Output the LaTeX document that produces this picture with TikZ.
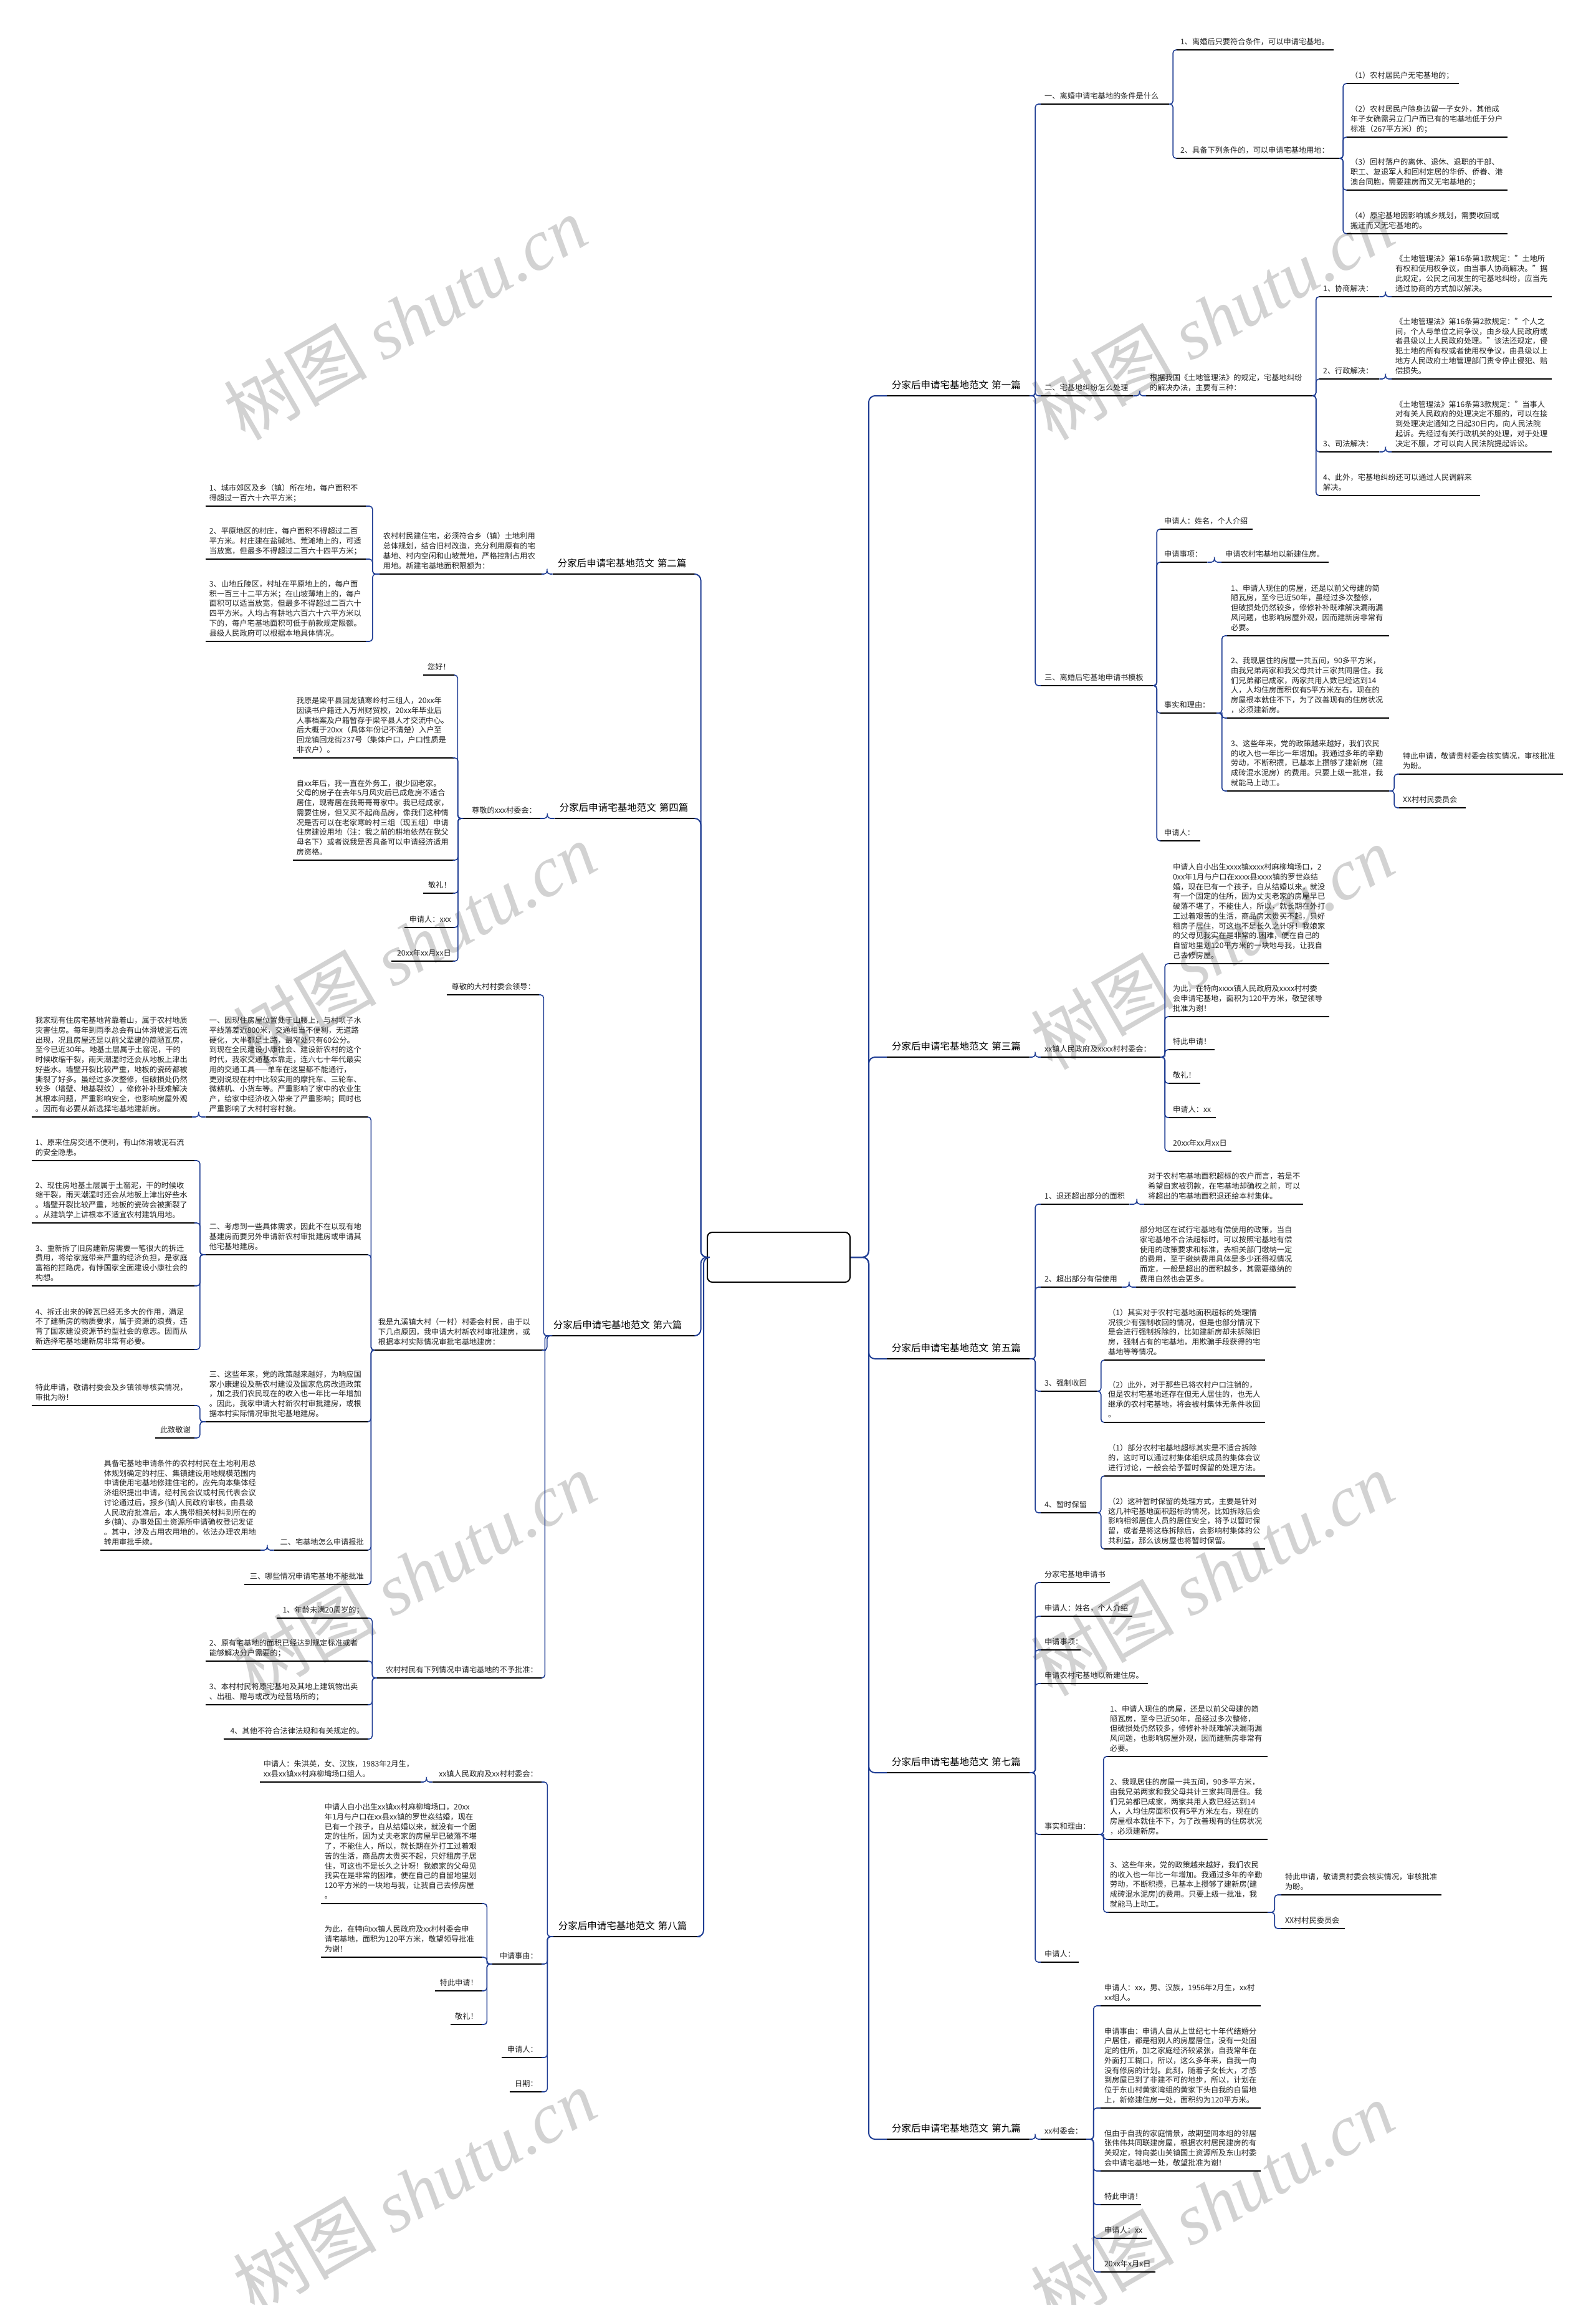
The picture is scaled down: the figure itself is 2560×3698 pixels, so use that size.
\documentclass[tikz,border=0pt]{standalone}
\usepackage{fontspec}
\setmainfont{Noto Sans CJK SC}
\newfontfamily\wmlatin{Liberation Serif}
\usetikzlibrary{calc}
\definecolor{conncol}{RGB}{32,62,148}
\definecolor{txtcol}{RGB}{34,34,34}
\definecolor{wmcol}{RGB}{210,210,210}
\setlength\parindent{0pt}
\newcommand\bodyf{\fontsize{12.2}{15.7}\selectfont}
\newcommand\ttlf{\fontsize{15.5}{19}\selectfont}
\tikzset{
 itR/.style={anchor=south west,align=left,inner xsep=6pt,inner ysep=4pt,font=\bodyf,text=txtcol},
 itL/.style={anchor=south east,align=left,inner xsep=6pt,inner ysep=4pt,font=\bodyf,text=txtcol},
 itLr/.style={anchor=south east,align=right,inner xsep=6pt,inner ysep=4pt,font=\bodyf,text=txtcol},
 ttR/.style={anchor=south west,align=left,inner xsep=8pt,inner ysep=6pt,font=\ttlf,text=black},
 ttL/.style={anchor=south east,align=left,inner xsep=8pt,inner ysep=6pt,font=\ttlf,text=black},
 ul/.style={draw=black,line width=1.8pt},
 tul/.style={draw=black,line width=2.4pt},
 conn/.style={draw=conncol,line width=1.6pt,rounded corners=5pt},
 rconn/.style={draw=conncol,line width=2pt,rounded corners=10pt},
 rootbox/.style={draw=black,line width=2pt,fill=white,rounded corners=8pt,minimum width=229pt,minimum height=80pt},
 wm/.style={text=wmcol,font=\fontsize{115}{115}\selectfont,rotate=30,inner sep=0pt}
}
\newcommand\mmR[5]{\pgfmathsetmacro\mmtw{#4-12}\node[itR,text width=\mmtw pt] (#1) at (#2,#3) {#5\strut};\draw[ul] (#1.south west) -- (#1.south east);}
\newcommand\mmL[5]{\pgfmathsetmacro\mmtw{#4-12}\node[itL,text width=\mmtw pt] (#1) at (#2,#3) {#5\strut};\draw[ul] (#1.south west) -- (#1.south east);}
\newcommand\mmLr[5]{\pgfmathsetmacro\mmtw{#4-12}\node[itLr,text width=\mmtw pt] (#1) at (#2,#3) {#5\strut};\draw[ul] (#1.south west) -- (#1.south east);}
\newcommand\mmTR[5]{\pgfmathsetmacro\mmtw{#4-16}\node[ttR,text width=\mmtw pt] (#1) at (#2,#3) {分家后申请宅基地范文~第#5篇\strut};\draw[tul] (#1.south west) -- (#1.south east);}
\newcommand\mmTL[5]{\pgfmathsetmacro\mmtw{#4-16}\node[ttL,text width=\mmtw pt] (#1) at (#2,#3) {分家后申请宅基地范文~第#5篇\strut};\draw[tul] (#1.south west) -- (#1.south east);}
\newcommand\mmCR[2]{\draw[conn] (#1.south east) -| ($(#1.south east)!.5!(#2.south west)$) |- (#2.south west);}
\newcommand\mmCL[2]{\draw[conn] (#1.south west) -| ($(#1.south west)!.5!(#2.south east)$) |- (#2.south east);}
\begin{document}
\begin{tikzpicture}[x=1pt,y=-1pt]
\useasboundingbox (0,0) rectangle (2560,3698);
\fill[white] (0,0) rectangle (2560,3698);
% watermarks
\node[wm] (wm1) at (650,510) {树图~{\wmlatin\itshape shutu.cn}};
\node[wm] (wm2) at (1945,510) {树图~{\wmlatin\itshape shutu.cn}};
\node[wm] (wm3) at (665,1515) {树图~{\wmlatin\itshape shutu.cn}};
\node[wm] (wm4) at (1945,1520) {树图~{\wmlatin\itshape shutu.cn}};
\node[wm] (wm5) at (665,2525) {树图~{\wmlatin\itshape shutu.cn}};
\node[wm] (wm6) at (1945,2525) {树图~{\wmlatin\itshape shutu.cn}};
\node[wm] (wm7) at (665,3515) {树图~{\wmlatin\itshape shutu.cn}};
\node[wm] (wm8) at (1945,3535) {树图~{\wmlatin\itshape shutu.cn}};

\node[rootbox] (root) at (1249.5,2017) {};

% ===== 第一篇 =====
\mmTR{t1}{1423}{635}{229}{一}
\mmR{n1a}{1670}{167}{206}{一、离婚申请宅基地的条件是什么}
\mmR{n1a1}{1888}{80}{252}{1、离婚后只要符合条件，可以申请宅基地。}
\mmR{n1a2}{1888}{254}{261}{2、具备下列条件的，可以申请宅基地用地：}
\mmR{n1a2a}{2161}{134}{180}{（1）农村居民户无宅基地的；}
\mmR{n1a2b}{2161}{220}{258}{（2）农村居民户除身边留一子女外，其他成\\年子女确需另立门户而已有的宅基地低于分户\\标准（267平方米）的；}
\mmR{n1a2c}{2161}{305}{258}{（3）回村落户的离休、退休、退职的干部、\\职工、复退军人和回村定居的华侨、侨眷、港\\澳台同胞，需要建房而又无宅基地的；}
\mmR{n1a2d}{2161}{375}{258}{（4）原宅基地因影响城乡规划，需要收回或\\搬迁而又无宅基地的。}
\mmR{n1b}{1670}{635}{148}{二、宅基地纠纷怎么处理}
\mmR{n1b1}{1839}{635}{267}{根据我国《土地管理法》的规定，宅基地纠纷\\的解决办法，主要有三种：}
\mmR{n1b1a}{2117}{476}{96}{1、协商解决：}
\mmR{n1b1a1}{2233}{476}{257}{《土地管理法》第16条第1款规定："土地所\\有权和使用权争议，由当事人协商解决。"据\\此规定，公民之间发生的宅基地纠纷，应当先\\通过协商的方式加以解决。}
\mmR{n1b1b}{2117}{608}{96}{2、行政解决：}
\mmR{n1b1b1}{2233}{608}{257}{《土地管理法》第16条第2款规定："个人之\\间，个人与单位之间争议，由乡级人民政府或\\者县级以上人民政府处理。"该法还规定，侵\\犯土地的所有权或者使用权争议，由县级以上\\地方人民政府土地管理部门责令停止侵犯、赔\\偿损失。}
\mmR{n1b1c}{2117}{725}{96}{3、司法解决：}
\mmR{n1b1c1}{2233}{725}{257}{《土地管理法》第16条第3款规定："当事人\\对有关人民政府的处理决定不服的，可以在接\\到处理决定通知之日起30日内，向人民法院\\起诉。先经过有关行政机关的处理，对于处理\\决定不服，才可以向人民法院提起诉讼。}
\mmR{n1b1d}{2117}{795}{258}{4、此外，宅基地纠纷还可以通过人民调解来\\解决。}
\mmR{n1c}{1670}{1100}{180}{三、离婚后宅基地申请书模板}
\mmR{n1c1}{1862}{849}{148}{申请人：姓名，个人介绍}
\mmR{n1c2}{1862}{902}{75}{申请事项：}
\mmR{n1c2a}{1960}{902}{172}{申请农村宅基地以新建住房。}
\mmR{n1c3}{1862}{1144}{90}{事实和理由：}
\mmR{n1c3a}{1969}{1020}{260}{1、申请人现住的房屋，还是以前父母建的简\\陋瓦房，至今已近50年，虽经过多次整修，\\但破损处仍然较多，修修补补既难解决漏雨漏\\风问题，也影响房屋外观，因而建新房非常有\\必要。}
\mmR{n1c3b}{1969}{1152}{260}{2、我现居住的房屋一共五间，90多平方米，\\由我兄弟两家和我父母共计三家共同居住。我\\们兄弟都已成家，两家共用人数已经达到14\\人，人均住房面积仅有5平方米左右，现在的\\房屋根本就住不下，为了改善现有的住房状况\\，必须建新房。}
\mmR{n1c3c}{1969}{1269}{260}{3、这些年来，党的政策越来越好，我们农民\\的收入也一年比一年增加。我通过多年的辛勤\\劳动，不断积攒，已基本上攒够了建新房（建\\成砖混水泥房）的费用。只要上级一批准，我\\就能马上动工。}
\mmR{n1c3c1}{2245}{1242}{263}{特此申请，敬请贵村委会核实情况，审核批准\\为盼。}
\mmR{n1c3c2}{2245}{1296}{107}{XX村村民委员会}
\mmR{n1c4}{1862}{1349}{64}{申请人：}

% ===== 第三篇 =====
\mmTR{t3}{1423}{1696}{229}{三}
\mmR{n3a}{1670}{1696}{192}{xx镇人民政府及xxxx村村委会：}
\mmR{n3a1}{1876}{1546}{257}{申请人自小出生xxxx镇xxxx村麻柳塆场口，2\\0xx年1月与户口在xxxx县xxxx镇的罗世焱结\\婚，现在已有一个孩子，自从结婚以来，就没\\有一个固定的住所，因为丈夫老家的房屋早已\\破落不堪了，不能住人，所以，就长期在外打\\工过着艰苦的生活，商品房太贵买不起，只好\\租房子居住，可这也不是长久之计呀！我娘家\\的父母见我实在是非常的.困难，便在自己的\\自留地里划120平方米的一块地与我，让我自\\己去修房屋。}
\mmR{n3a2}{1876}{1631}{257}{为此，在特向xxxx镇人民政府及xxxx村村委\\会申请宅基地，面积为120平方米，敬望领导\\批准为谢！}
\mmR{n3a3}{1876}{1684}{73}{特此申请！}
\mmR{n3a4}{1876}{1738}{50}{敬礼！}
\mmR{n3a5}{1876}{1793}{75}{申请人：xx}
\mmR{n3a6}{1876}{1847}{100}{20xx年xx月xx日}

% ===== 第五篇 =====
\mmTR{t5}{1423}{2180}{229}{五}
\mmR{n5a}{1670}{1932}{142}{1、退还超出部分的面积}
\mmR{n5a1}{1836}{1932}{255}{对于农村宅基地面积超标的农户而言，若是不\\希望自家被罚款，在宅基地却确权之前，可以\\将超出的宅基地面积退还给本村集体。}
\mmR{n5b}{1670}{2065}{130}{2、超出部分有偿使用}
\mmR{n5b1}{1823}{2065}{256}{部分地区在试行宅基地有偿使用的政策，当自\\家宅基地不合法超标时，可以按照宅基地有偿\\使用的政策要求和标准，去相关部门缴纳一定\\的费用，至于缴纳费用具体是多少还得视情况\\而定，一般是超出的面积越多，其需要缴纳的\\费用自然也会更多。}
\mmR{n5c}{1670}{2232}{91}{3、强制收回}
\mmR{n5c1}{1772}{2182}{258}{（1）其实对于农村宅基地面积超标的处理情\\况很少有强制收回的情况，但是也部分情况下\\是会进行强制拆除的，比如建新房却未拆除旧\\房，强制占有的宅基地，用欺骗手段获得的宅\\基地等等情况。}
\mmR{n5c2}{1772}{2282}{258}{（2）此外，对于那些已将农村户口注销的，\\但是农村宅基地还存在但无人居住的，也无人\\继承的农村宅基地，将会被村集体无条件收回\\。}
\mmR{n5d}{1670}{2427}{91}{4、暂时保留}
\mmR{n5d1}{1772}{2368}{258}{（1）部分农村宅基地超标其实是不适合拆除\\的，这时可以通过村集体组织成员的集体会议\\进行讨论，一般会给予暂时保留的处理方法。}
\mmR{n5d2}{1772}{2485}{258}{（2）这种暂时保留的处理方式，主要是针对\\这几种宅基地面积超标的情况，比如拆除后会\\影响相邻居住人员的居住安全，将予以暂时保\\留，或者是将这栋拆除后，会影响村集体的公\\共利益，那么该房屋也将暂时保留。}

% ===== 第七篇 =====
\mmTR{t7}{1423}{2844}{229}{七}
\mmR{n7a}{1670}{2539}{111}{分家宅基地申请书}
\mmR{n7b}{1670}{2593}{147}{申请人：姓名，个人介绍}
\mmR{n7c}{1670}{2647}{64}{申请事项：}
\mmR{n7d}{1670}{2701}{172}{申请农村宅基地以新建住房。}
\mmR{n7e}{1670}{2943}{96}{事实和理由：}
\mmR{n7e1}{1775}{2818}{259}{1、申请人现住的房屋，还是以前父母建的简\\陋瓦房，至今已近50年，虽经过多次整修，\\但破损处仍然较多，修修补补既难解决漏雨漏\\风问题，也影响房屋外观，因而建新房非常有\\必要。}
\mmR{n7e2}{1775}{2951}{259}{2、我现居住的房屋一共五间，90多平方米，\\由我兄弟两家和我父母共计三家共同居住。我\\们兄弟都已成家，两家共用人数已经达到14\\人，人均住房面积仅有5平方米左右，现在的\\房屋根本就住不下，为了改善现有的住房状况\\，必须建新房。}
\mmR{n7e3}{1775}{3068}{259}{3、这些年来，党的政策越来越好，我们农民\\的收入也一年比一年增加。我通过多年的辛勤\\劳动，不断积攒，已基本上攒够了建新房(建\\成砖混水泥房)的费用。只要上级一批准，我\\就能马上动工。}
\mmR{n7e3a}{2056}{3040}{257}{特此申请，敬请贵村委会核实情况，审核批准\\为盼。}
\mmR{n7e3b}{2056}{3094}{102}{XX村村民委员会}
\mmR{n7f}{1670}{3148}{61}{申请人：}

% ===== 第九篇 =====
\mmTR{t9}{1423}{3432}{229}{九}
\mmR{n9a}{1670}{3432}{73}{xx村委会：}
\mmR{n9a1}{1766}{3218}{257}{申请人：xx，男、汉族，1956年2月生，xx村\\xx组人。}
\mmR{n9a2}{1766}{3382}{257}{申请事由：申请人自从上世纪七十年代结婚分\\户居住，都是租别人的房屋居住，没有一处固\\定的住所，加之家庭经济较紧张，自我常年在\\外面打工糊口，所以，这么多年来，自我一向\\没有修房的计划。此刻，随着子女长大，才感\\到房屋已到了非建不可的地步，所以，计划在\\位于东山村黄家湾组的黄家下头自我的自留地\\上，新修建住房一处，面积约为120平方米。}
\mmR{n9a3}{1766}{3483}{257}{但由于自我的家庭情景，故期望同本组的邻居\\张伟伟共同联建房屋，根据农村居民建房的有\\关规定，特向娄山关镇国土资源所及东山村委\\会申请宅基地一处，敬望批准为谢！}
\mmR{n9a4}{1766}{3537}{65}{特此申请！}
\mmR{n9a5}{1766}{3591}{74}{申请人：xx}
\mmR{n9a6}{1766}{3645}{88}{20xx年x月x日}

% ===== 第二篇 =====
\mmTL{t2}{1115}{921}{228}{二}
\mmL{n2a}{869}{921}{260}{农村村民建住宅，必须符合乡（镇）土地利用\\总体规划，结合旧村改造，充分利用原有的宅\\基地、村内空闲和山坡荒地，严格控制占用农\\用地。新建宅基地面积限额为：}
\mmL{n2a1}{587}{812}{257}{1、城市郊区及乡（镇）所在地，每户面积不\\得超过一百六十六平方米；}
\mmL{n2a2}{587}{897}{257}{2、平原地区的村庄，每户面积不得超过二百\\平方米。村庄建在盐碱地、荒滩地上的，可适\\当放宽，但最多不得超过二百六十四平方米；}
\mmL{n2a3}{587}{1029}{257}{3、山地丘陵区，村址在平原地上的，每户面\\积一百三十二平方米；在山坡薄地上的，每户\\面积可以适当放宽，但最多不得超过二百六十\\四平方米。人均占有耕地六百六十六平方米以\\下的，每户宅基地面积可低于前款规定限额。\\县级人民政府可以根据本地具体情况。}

% ===== 第四篇 =====
\mmTL{t4}{1115}{1313}{225}{四}
\mmLr{n4a}{867}{1313}{127}{尊敬的xxx村委会：}
\mmLr{n4a1}{729}{1083}{50}{您好！}
\mmL{n4a2}{730}{1216}{260}{我原是梁平县回龙镇寒岭村三组人，20xx年\\因读书户籍迁入万州财贸校，20xx年毕业后\\人事档案及户籍暂存于梁平县人才交流中心。\\后大概于20xx（具体年份记不清楚）入户至\\回龙镇回龙街237号（集体户口，户口性质是\\非农户）。}
\mmL{n4a3}{730}{1380}{260}{自xx年后，我一直在外务工，很少回老家。\\父母的房子在去年5月风灾后已成危房不适合\\居住，现寄居在我哥哥哥家中。我已经成家，\\需要住房，但又买不起商品房，像我们这种情\\况是否可以在老家寒岭村三组（现五组）申请\\住房建设用地（注：我之前的耕地依然在我父\\母名下）或者说我是否具备可以申请经济适用\\房资格。}
\mmLr{n4a4}{730}{1433}{51}{敬礼！}
\mmLr{n4a5}{730}{1488}{81}{申请人：xxx}
\mmLr{n4a6}{730}{1542}{102}{20xx年xx月xx日}

% ===== 第六篇 =====
\mmTL{t6}{1115}{2143}{235}{六}
\mmLr{n6a}{865}{1596}{148}{尊敬的大村村委会领导：}
\mmL{n6b}{876}{2166}{275}{我是九溪镇大村（一村）村委会村民，由于以\\下几点原因，我申请大村新农村审批建房，或\\根据本村实际情况审批宅基地建房：}
\mmL{n6b1}{590}{1792}{260}{一、因现住房屋位置处于山腰上，与村坝子水\\平线落差近800米，交通相当不便利，无道路\\硬化，大半都是土路，最窄处只有60公分。\\到现在全民建设小康社会、建设新农村的这个\\时代，我家交通基本靠走，连六七十年代最实\\用的交通工具——单车在这里都不能通行，\\更别说现在村中比较实用的摩托车、三轮车、\\微耕机、小货车等。严重影响了家中的农业生\\产，给家中经济收入带来了严重影响；同时也\\严重影响了大村村容村貌。}
\mmL{n6b1a}{308}{1792}{257}{我家现有住房宅基地背靠着山，属于农村地质\\灾害住房。每年到雨季总会有山体滑坡泥石流\\出现，况且房屋还是以前父辈建的简陋瓦房，\\至今已近30年。地基土层属于土窑泥，干的\\时候收缩干裂，雨天潮湿时还会从地板上津出\\好些水。墙壁开裂比较严重，地板的瓷砖都被\\撕裂了好多。虽经过多次整修，但破损处仍然\\较多（墙壁、地基裂纹），修修补补既难解决\\其根本问题，严重影响安全，也影响房屋外观\\。因而有必要从新选择宅基地建新房。}
\mmL{n6b2}{590}{2013}{260}{二、考虑到一些具体需求，因此不在以现有地\\基建房而要另外申请新农村审批建房或申请其\\他宅基地建房。}
\mmL{n6b2a}{312}{1862}{261}{1、原来住房交通不便利，有山体滑坡泥石流\\的安全隐患。}
\mmL{n6b2b}{312}{1962}{261}{2、现住房地基土层属于土窑泥，干的时候收\\缩干裂，雨天潮湿时还会从地板上津出好些水\\。墙壁开裂比较严重，地板的瓷砖会被撕裂了\\。从建筑学上讲根本不适宜农村建筑用地。}
\mmL{n6b2c}{312}{2063}{261}{3、重新拆了旧房建新房需要一笔很大的拆迁\\费用，将给家庭带来严重的经济负担，是家庭\\富裕的拦路虎，有悖国家全面建设小康社会的\\构想。}
\mmL{n6b2d}{312}{2165}{261}{4、拆迁出来的砖瓦已经无多大的作用，满足\\不了建新房的物质要求，属于资源的浪费，违\\背了国家建设资源节约型社会的意志。因而从\\新选择宅基地建新房非常有必要。}
\mmL{n6b3}{590}{2281}{260}{三、这些年来，党的政策越来越好，为响应国\\家小康建设及新农村建设及国家危房改造政策\\，加之我们农民现在的收入也一年比一年增加\\。因此，我家申请大村新农村审批建房，或根\\据本村实际情况审批宅基地建房。}
\mmL{n6b3a}{312}{2255}{261}{特此申请，敬请村委会及乡镇领导核实情况，\\审批为盼！}
\mmLr{n6b3b}{312}{2307}{63}{此致敬谢}
\mmLr{n6b4}{590}{2487}{150}{二、宅基地怎么申请报批}
\mmL{n6b4a}{418}{2487}{257}{具备宅基地申请条件的农村村民在土地利用总\\体规划确定的村庄、集镇建设用地规模范围内\\申请使用宅基地修建住宅的，应先向本集体经\\济组织提出申请，经村民会议或村民代表会议\\讨论通过后，报乡(镇)人民政府审核，由县级\\人民政府批准后，本人携带相关材料到所在的\\乡(镇)、办事处国土资源所申请确权登记发证\\。其中，涉及占用农用地的，依法办理农用地\\转用审批手续。}
\mmLr{n6b5}{590}{2542}{198}{三、哪些情况申请宅基地不能批准}
\mmLr{n6c}{869}{2692}{264}{农村村民有下列情况申请宅基地的不予批准：}
\mmLr{n6c1}{590}{2596}{146}{1、年龄未满20周岁的；}
\mmL{n6c2}{590}{2665}{260}{2、原有宅基地的面积已经达到规定标准或者\\能够解决分户需要的；}
\mmL{n6c3}{590}{2735}{260}{3、本村村民将原宅基地及其地上建筑物出卖\\、出租、赠与或改为经营场所的；}
\mmLr{n6c4}{590}{2790}{231}{4、其他不符合法律法规和有关规定的。}

% ===== 第八篇 =====
\mmTL{t8}{1124}{3107}{236}{八}
\mmLr{n8a}{869}{2859}{175}{xx镇人民政府及xx村村委会：}
\mmL{n8a1}{675}{2859}{258}{申请人：朱洪英，女、汉族，1983年2月生，\\xx县xx镇xx村麻柳塆场口组人。}
\mmLr{n8b}{869}{3151}{79}{申请事由：}
\mmL{n8b1}{773}{3054}{258}{申请人自小出生xx镇xx村麻柳塆场口，20xx\\年1月与户口在xx县xx镇的罗世焱结婚，现在\\已有一个孩子，自从结婚以来，就没有一个固\\定的住所，因为丈夫老家的房屋早已破落不堪\\了，不能住人，所以，就长期在外打工过着艰\\苦的生活，商品房太贵买不起，只好租房子居\\住，可这也不是长久之计呀！我娘家的父母见\\我实在是非常的困难，便在自己的自留地里划\\120平方米的一块地与我，让我自己去修房屋\\。}
\mmL{n8b2}{773}{3140}{258}{为此，在特向xx镇人民政府及xx村村委会申\\请宅基地，面积为120平方米，敬望领导批准\\为谢！}
\mmLr{n8b3}{773}{3194}{75}{特此申请！}
\mmLr{n8b4}{773}{3248}{50}{敬礼！}
\mmLr{n8c}{869}{3301}{64}{申请人：}
\mmLr{n8d}{869}{3356}{51}{日期：}

% ===== connectors: root =====
\foreach \t in {t1,t3,t5,t7,t9}
  \draw[rconn] (root.east) -| ($(root.east)!.5!(\t.south west)$) |- (\t.south west);
\foreach \t in {t2,t4,t6,t8}
  \draw[rconn] (root.west) -| ($(root.west)!.5!(\t.south east)$) |- (\t.south east);

% ===== connectors: right =====
\mmCR{t1}{n1a}\mmCR{t1}{n1b}\mmCR{t1}{n1c}
\mmCR{n1a}{n1a1}\mmCR{n1a}{n1a2}
\mmCR{n1a2}{n1a2a}\mmCR{n1a2}{n1a2b}\mmCR{n1a2}{n1a2c}\mmCR{n1a2}{n1a2d}
\mmCR{n1b}{n1b1}
\mmCR{n1b1}{n1b1a}\mmCR{n1b1}{n1b1b}\mmCR{n1b1}{n1b1c}\mmCR{n1b1}{n1b1d}
\mmCR{n1b1a}{n1b1a1}\mmCR{n1b1b}{n1b1b1}\mmCR{n1b1c}{n1b1c1}
\mmCR{n1c}{n1c1}\mmCR{n1c}{n1c2}\mmCR{n1c}{n1c3}\mmCR{n1c}{n1c4}
\mmCR{n1c2}{n1c2a}
\mmCR{n1c3}{n1c3a}\mmCR{n1c3}{n1c3b}\mmCR{n1c3}{n1c3c}
\mmCR{n1c3c}{n1c3c1}\mmCR{n1c3c}{n1c3c2}
\mmCR{t3}{n3a}
\mmCR{n3a}{n3a1}\mmCR{n3a}{n3a2}\mmCR{n3a}{n3a3}\mmCR{n3a}{n3a4}\mmCR{n3a}{n3a5}\mmCR{n3a}{n3a6}
\mmCR{t5}{n5a}\mmCR{t5}{n5b}\mmCR{t5}{n5c}\mmCR{t5}{n5d}
\mmCR{n5a}{n5a1}\mmCR{n5b}{n5b1}
\mmCR{n5c}{n5c1}\mmCR{n5c}{n5c2}\mmCR{n5d}{n5d1}\mmCR{n5d}{n5d2}
\mmCR{t7}{n7a}\mmCR{t7}{n7b}\mmCR{t7}{n7c}\mmCR{t7}{n7d}\mmCR{t7}{n7e}\mmCR{t7}{n7f}
\mmCR{n7e}{n7e1}\mmCR{n7e}{n7e2}\mmCR{n7e}{n7e3}
\mmCR{n7e3}{n7e3a}\mmCR{n7e3}{n7e3b}
\mmCR{t9}{n9a}
\mmCR{n9a}{n9a1}\mmCR{n9a}{n9a2}\mmCR{n9a}{n9a3}\mmCR{n9a}{n9a4}\mmCR{n9a}{n9a5}\mmCR{n9a}{n9a6}

% ===== connectors: left =====
\mmCL{t2}{n2a}
\mmCL{n2a}{n2a1}\mmCL{n2a}{n2a2}\mmCL{n2a}{n2a3}
\mmCL{t4}{n4a}
\mmCL{n4a}{n4a1}\mmCL{n4a}{n4a2}\mmCL{n4a}{n4a3}\mmCL{n4a}{n4a4}\mmCL{n4a}{n4a5}\mmCL{n4a}{n4a6}
\mmCL{t6}{n6a}\mmCL{t6}{n6b}\mmCL{t6}{n6c}
\mmCL{n6b}{n6b1}\mmCL{n6b}{n6b2}\mmCL{n6b}{n6b3}\mmCL{n6b}{n6b4}\mmCL{n6b}{n6b5}
\mmCL{n6b1}{n6b1a}
\mmCL{n6b2}{n6b2a}\mmCL{n6b2}{n6b2b}\mmCL{n6b2}{n6b2c}\mmCL{n6b2}{n6b2d}
\mmCL{n6b3}{n6b3a}\mmCL{n6b3}{n6b3b}
\mmCL{n6b4}{n6b4a}
\mmCL{n6c}{n6c1}\mmCL{n6c}{n6c2}\mmCL{n6c}{n6c3}\mmCL{n6c}{n6c4}
\mmCL{t8}{n8a}\mmCL{t8}{n8b}\mmCL{t8}{n8c}\mmCL{t8}{n8d}
\mmCL{n8a}{n8a1}
\mmCL{n8b}{n8b1}\mmCL{n8b}{n8b2}\mmCL{n8b}{n8b3}\mmCL{n8b}{n8b4}
\end{tikzpicture}
\end{document}
